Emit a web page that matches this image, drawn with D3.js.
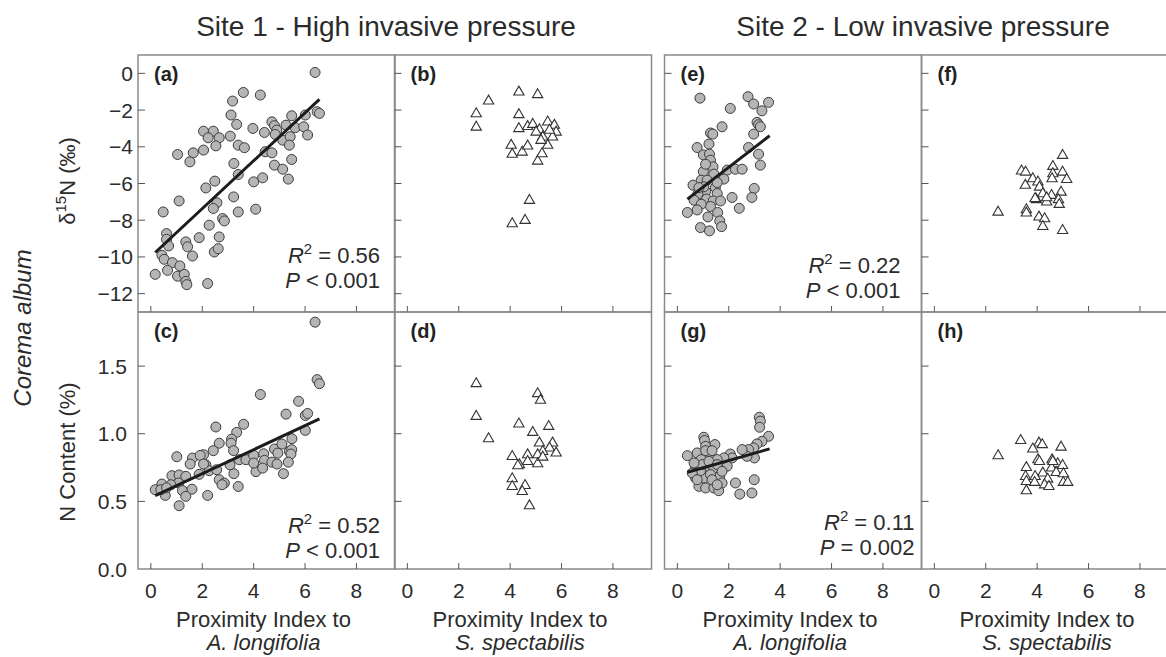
<!DOCTYPE html>
<html>
<head>
<meta charset="utf-8">
<script src="https://cdn.jsdelivr.net/npm/d3@7"></script>
<style>
  body { margin: 0; background: #fff; }
  svg { display: block; font-family: "Liberation Sans", Arial, sans-serif; }
</style>
</head>
<body>
<div id="viz"></div>
<script>
const WIDTH = 1166, HEIGHT = 657;

// tick values
const xTicks = [0, 2, 4, 6, 8];
const d15nTicks = [0, -2, -4, -6, -8, -10, -12];
const nTicks = [0.0, 0.5, 1.0, 1.5];

const siteTitles = ["Site 1 - High invasive pressure", "Site 2 - Low invasive pressure"];
const xLabelSpecies = ["A. longifolia", "S. spectabilis", "A. longifolia", "S. spectabilis"];

// (a) d15N vs proximity to A. longifolia, site 1
const panelA = [[6.39,0.05],[3.6,-1.04],[4.26,-1.18],[3.18,-1.51],[3.12,-2.27],[3.34,-2.78],[6.47,-2.09],[6.56,-2.18],[5.48,-2.31],[6.01,-2.27],[2.05,-3.15],[2.43,-3.15],[2.23,-3.51],[2.66,-3.51],[3.09,-3.42],[3.97,-3.0],[4.42,-3.22],[4.71,-2.64],[4.81,-2.85],[4.9,-3.09],[5.26,-2.82],[4.84,-3.33],[5.13,-3.64],[5.42,-3.45],[5.62,-2.96],[5.95,-2.91],[6.1,-3.36],[5.39,-3.91],[3.4,-3.91],[3.64,-4.05],[2.53,-3.95],[2.05,-4.18],[1.65,-4.33],[1.52,-4.82],[1.04,-4.42],[4.45,-4.27],[4.71,-4.33],[3.23,-4.91],[4.81,-5.0],[5.13,-5.22],[5.48,-4.69],[5.35,-5.76],[3.4,-5.51],[4.35,-5.69],[4.0,-5.91],[2.49,-5.87],[2.14,-6.24],[1.1,-6.95],[2.57,-7.05],[2.43,-7.36],[3.22,-6.73],[3.4,-7.55],[4.08,-7.4],[0.48,-7.55],[2.79,-7.91],[2.86,-8.04],[2.27,-8.27],[1.88,-8.95],[2.66,-8.91],[1.36,-9.18],[1.43,-9.45],[2.47,-9.73],[2.62,-9.55],[1.62,-9.95],[0.61,-8.73],[0.61,-9.04],[0.69,-9.4],[0.43,-9.91],[0.52,-10.13],[0.84,-10.31],[1.13,-10.49],[0.65,-10.73],[0.17,-10.95],[1.04,-11.05],[1.3,-10.95],[1.36,-11.33],[1.4,-11.51],[2.21,-11.45]];
const fitA = [[0.17,-9.76],[6.56,-1.42]];

// (b) d15N vs proximity to S. spectabilis, site 1
const panelB = [[4.34,-1.02],[5.07,-1.16],[3.16,-1.51],[2.68,-2.2],[2.68,-2.93],[4.34,-2.25],[4.34,-3.01],[4.68,-2.9],[4.88,-2.78],[5.14,-3.07],[5.46,-2.65],[5.72,-2.83],[5.79,-3.2],[5.65,-3.47],[5.27,-3.47],[5.01,-3.2],[4.04,-3.92],[4.08,-4.41],[4.47,-4.29],[4.68,-3.96],[5.07,-4.78],[5.24,-4.38],[5.46,-3.92],[4.75,-6.92],[4.08,-8.19],[4.58,-8.01],[5.2,-3.65],[5.53,-3.1]];

// (c) N content vs proximity to A. longifolia, site 1
const panelC = [[6.39,1.825],[6.47,1.40],[6.56,1.37],[4.26,1.29],[5.75,1.24],[5.26,1.145],[6.01,1.135],[6.1,1.15],[6.01,1.025],[2.53,1.05],[3.61,1.07],[3.34,1.01],[3.14,0.96],[2.66,0.93],[3.12,0.93],[3.22,0.875],[2.05,0.845],[1.62,0.82],[1.01,0.83],[1.53,0.776],[2.43,0.875],[2.14,0.77],[2.27,0.727],[1.88,0.70],[2.56,0.734],[2.66,0.66],[2.86,0.635],[2.77,0.623],[3.4,0.61],[3.23,0.705],[3.08,0.77],[3.44,0.808],[3.7,0.808],[4.0,0.84],[4.09,0.72],[4.0,0.783],[4.39,0.852],[4.42,0.803],[4.35,0.746],[4.71,0.79],[4.81,0.887],[4.94,0.857],[5.1,0.924],[4.91,0.776],[5.49,0.963],[5.39,0.87],[5.48,0.882],[5.45,0.85],[5.35,0.79],[5.16,0.705],[0.82,0.69],[1.1,0.695],[1.36,0.685],[0.43,0.628],[0.17,0.586],[0.56,0.544],[1.08,0.636],[1.23,0.58],[1.6,0.59],[1.36,0.537],[1.1,0.468],[2.21,0.544],[0.78,0.623],[1.92,0.84],[2.05,0.776],[0.39,0.586],[0.61,0.6]];
const fitC = [[0.17,0.542],[6.56,1.11]];

// (d) N content vs proximity to S. spectabilis, site 1
const panelD = [[2.68,1.37],[2.68,1.128],[3.16,0.963],[5.07,1.296],[5.18,1.247],[4.34,1.072],[5.5,1.054],[4.88,1.01],[5.14,0.931],[5.65,0.931],[5.53,0.894],[5.79,0.857],[5.27,0.869],[5.07,0.844],[4.68,0.844],[4.08,0.832],[4.36,0.77],[4.68,0.795],[5.07,0.778],[5.27,0.827],[4.08,0.667],[4.08,0.61],[4.58,0.617],[4.47,0.573],[4.75,0.467],[4.3,0.763]];

// (e) d15N vs proximity to A. longifolia, site 2
const panelE = [[0.88,-1.35],[2.75,-1.27],[2.97,-1.67],[3.55,-1.58],[3.29,-2.04],[2.06,-1.91],[3.1,-2.67],[3.16,-2.8],[3.23,-2.91],[1.74,-2.91],[1.29,-3.25],[1.38,-3.31],[2.97,-3.31],[1.23,-3.85],[0.77,-4.04],[2.77,-4.04],[1.01,-4.44],[1.25,-4.4],[3.16,-4.4],[1.29,-4.73],[3.23,-5.0],[1.39,-5.09],[1.94,-5.27],[2.26,-5.22],[2.52,-5.22],[1.01,-5.35],[1.42,-5.49],[0.93,-5.82],[1.16,-5.82],[1.81,-5.76],[0.61,-6.09],[1.48,-6.22],[1.1,-6.44],[0.8,-6.58],[1.55,-6.55],[0.65,-6.91],[1.14,-6.85],[1.39,-6.95],[1.68,-6.95],[2.13,-6.76],[2.99,-6.27],[2.9,-6.76],[1.29,-7.25],[0.93,-7.13],[1.57,-7.58],[0.77,-7.44],[0.39,-7.58],[2.41,-7.35],[1.19,-7.82],[1.65,-8.04],[1.72,-8.35],[0.9,-8.4],[1.25,-8.58],[1.03,-6.18],[0.84,-6.22],[1.55,-5.95],[1.1,-4.95]];
const fitE = [[0.39,-6.85],[3.59,-3.4]];

// (f) d15N vs proximity to S. spectabilis, site 2
const panelF = [[4.99,-4.47],[4.61,-5.07],[4.99,-5.38],[4.61,-5.47],[4.58,-5.74],[5.15,-5.78],[3.39,-5.32],[3.55,-5.38],[3.83,-5.74],[4.03,-5.92],[3.54,-6.1],[4.09,-6.2],[4.22,-6.56],[3.97,-6.88],[4.56,-6.65],[4.93,-6.47],[4.37,-7.01],[4.83,-6.88],[4.86,-7.14],[2.48,-7.56],[3.58,-7.43],[3.58,-7.61],[4.07,-7.83],[4.29,-7.92],[4.22,-8.34],[4.99,-8.56],[3.92,-6.82],[4.37,-6.78]];

// (g) N content vs proximity to A. longifolia, site 2
const panelG = [[3.19,1.122],[3.23,1.093],[3.2,1.048],[3.55,0.981],[3.29,0.944],[3.1,0.925],[2.97,0.895],[2.77,0.883],[3.0,0.821],[2.71,0.833],[2.52,0.883],[2.06,0.85],[2.13,0.821],[1.94,0.76],[1.81,0.821],[1.03,0.974],[1.06,0.95],[1.46,0.92],[1.1,0.907],[0.77,0.858],[0.39,0.838],[1.29,0.846],[0.93,0.809],[1.55,0.809],[0.71,0.747],[1.16,0.76],[1.42,0.747],[1.65,0.685],[1.03,0.673],[0.71,0.673],[0.84,0.611],[1.1,0.599],[1.42,0.599],[1.61,0.579],[1.74,0.636],[2.26,0.636],[2.43,0.554],[2.9,0.562],[2.99,0.66],[0.9,0.727],[1.29,0.698],[0.58,0.71],[0.97,0.772],[1.23,0.796],[1.55,0.772],[1.1,0.875],[1.35,0.875],[0.65,0.784],[1.74,0.722],[0.77,0.66],[1.35,0.66],[1.55,0.623]];
const fitG = [[0.39,0.715],[3.59,0.888]];

// (h) N content vs proximity to S. spectabilis, site 2
const panelH = [[3.36,0.95],[4.07,0.931],[4.2,0.919],[4.93,0.901],[3.83,0.887],[2.48,0.837],[4.03,0.807],[4.09,0.795],[4.58,0.807],[4.8,0.778],[4.99,0.765],[3.58,0.75],[4.56,0.746],[4.22,0.709],[4.74,0.713],[5.02,0.704],[3.55,0.684],[3.92,0.684],[4.41,0.664],[3.58,0.647],[3.9,0.64],[5.02,0.64],[5.19,0.64],[4.29,0.622],[4.46,0.61],[3.58,0.578],[4.61,0.795]];

const COLORS = { frame: "#8a8a8a", tick: "#555", text: "#2b2b2b", dot: "#b5b5b5", dotStroke: "#3c3c3c", line: "#1c1c1c" };

// layout
const colLeft = [138, 394.5, 664.5, 921.5];
const rowTop = [55, 312];
const PW = 257, PH = 257;

const panels = [
  { id: "(a)", col: 0, row: 0, pts: panelA, shape: "circle", fit: fitA, r2: "0.56", p: "< 0.001", sx: 242, sy: 208 },
  { id: "(b)", col: 1, row: 0, pts: panelB, shape: "triangle" },
  { id: "(c)", col: 0, row: 1, pts: panelC, shape: "circle", fit: fitC, r2: "0.52", p: "< 0.001", sx: 242, sy: 221 },
  { id: "(d)", col: 1, row: 1, pts: panelD, shape: "triangle" },
  { id: "(e)", col: 2, row: 0, pts: panelE, shape: "circle", fit: fitE, r2: "0.22", p: "< 0.001", sx: 236, sy: 218 },
  { id: "(f)", col: 3, row: 0, pts: panelF, shape: "triangle" },
  { id: "(g)", col: 2, row: 1, pts: panelG, shape: "circle", fit: fitG, r2: "0.11", p: "= 0.002", sx: 250, sy: 218 },
  { id: "(h)", col: 3, row: 1, pts: panelH, shape: "triangle" }
];

const svg = d3.select("#viz").append("svg")
  .attr("width", WIDTH)
  .attr("height", HEIGHT)
  .attr("viewBox", `0 0 ${WIDTH} ${HEIGHT}`);

svg.append("rect").attr("width", WIDTH).attr("height", HEIGHT).attr("fill", "#fff");

const tri = d3.symbol().type(d3.symbolTriangle).size(46);

panels.forEach(pn => {
  const x0 = colLeft[pn.col], y0 = rowTop[pn.row];
  const x = d3.scaleLinear().domain([-0.5, 9.5]).range([x0, x0 + PW]);
  const y = pn.row === 0
    ? d3.scaleLinear().domain([-13, 1]).range([y0 + PH, y0])
    : d3.scaleLinear().domain([0, 1.9]).range([y0 + PH, y0]);
  const yTicks = pn.row === 0 ? d15nTicks : nTicks;

  const g = svg.append("g");

  g.append("rect")
    .attr("x", x0).attr("y", y0)
    .attr("width", PW).attr("height", PH)
    .attr("fill", "none")
    .attr("stroke", COLORS.frame)
    .attr("stroke-width", 1.5);

  // inward ticks
  g.selectAll("line.yt")
    .data(yTicks.filter(t => t !== 0 || pn.row === 0))
    .join("line")
    .attr("x1", x0).attr("x2", x0 + 7)
    .attr("y1", d => y(d)).attr("y2", d => y(d))
    .attr("stroke", COLORS.tick).attr("stroke-width", 1);

  g.selectAll("line.xt")
    .data(xTicks)
    .join("line")
    .attr("x1", d => x(d)).attr("x2", d => x(d))
    .attr("y1", y0 + PH).attr("y2", y0 + PH - 6)
    .attr("stroke", COLORS.tick).attr("stroke-width", 1);

  if (pn.col === 0) {
    g.selectAll("text.yl")
      .data(yTicks)
      .join("text")
      .attr("x", pn.row === 0 ? 133 : 127)
      .attr("y", d => y(d) + 7.5)
      .attr("text-anchor", "end")
      .attr("fill", COLORS.text)
      .style("font-size", "21px")
      .text(d => pn.row === 0 ? (d === 0 ? "0" : "\u2212" + Math.abs(d)) : d3.format(".1f")(d));
  }

  if (pn.row === 1) {
    g.selectAll("text.xl")
      .data(xTicks)
      .join("text")
      .attr("x", d => x(d))
      .attr("y", 598)
      .attr("text-anchor", "middle")
      .attr("fill", COLORS.text)
      .style("font-size", "21px")
      .text(d => d);

    const cx = x0 + PW / 2 - 3;
    g.append("text")
      .attr("x", cx).attr("y", 627)
      .attr("text-anchor", "middle")
      .attr("fill", COLORS.text)
      .style("font-size", "22px")
      .text("Proximity Index to");
    g.append("text")
      .attr("x", cx).attr("y", 650)
      .attr("text-anchor", "middle")
      .attr("fill", COLORS.text)
      .style("font-size", "22px")
      .style("font-style", "italic")
      .text(xLabelSpecies[pn.col]);
  }

  if (pn.shape === "circle") {
    g.selectAll("circle.pt")
      .data(pn.pts)
      .join("circle")
      .attr("cx", d => x(d[0]))
      .attr("cy", d => y(d[1]))
      .attr("r", 5)
      .attr("fill", COLORS.dot)
      .attr("stroke", COLORS.dotStroke)
      .attr("stroke-width", 1);
  } else {
    g.selectAll("path.pt")
      .data(pn.pts)
      .join("path")
      .attr("d", tri)
      .attr("transform", d => `translate(${x(d[0])},${y(d[1])})`)
      .attr("fill", "#fff")
      .attr("stroke", "#333")
      .attr("stroke-width", 1.1);
  }

  // regression line, over the points
  if (pn.fit) {
    g.append("line")
      .attr("x1", x(pn.fit[0][0])).attr("y1", y(pn.fit[0][1]))
      .attr("x2", x(pn.fit[1][0])).attr("y2", y(pn.fit[1][1]))
      .attr("stroke", COLORS.line)
      .attr("stroke-width", 3);
  }

  g.append("text")
    .attr("x", x0 + 16).attr("y", y0 + 26)
    .attr("fill", "#222")
    .style("font-size", "20px")
    .style("font-weight", "bold")
    .text(pn.id);

  if (pn.r2) {
    const t1 = g.append("text")
      .attr("x", x0 + pn.sx).attr("y", y0 + pn.sy)
      .attr("text-anchor", "end")
      .attr("fill", COLORS.text)
      .style("font-size", "22px");
    t1.append("tspan").style("font-style", "italic").text("R");
    t1.append("tspan").attr("dy", -9).style("font-size", "15px").text("2");
    t1.append("tspan").attr("dy", 9).text(" = " + pn.r2);

    const t2 = g.append("text")
      .attr("x", x0 + pn.sx).attr("y", y0 + pn.sy + 25)
      .attr("text-anchor", "end")
      .attr("fill", COLORS.text)
      .style("font-size", "22px");
    t2.append("tspan").style("font-style", "italic").text("P");
    t2.append("tspan").text(" " + pn.p);
  }
});

// site titles
svg.selectAll("text.site")
  .data(siteTitles)
  .join("text")
  .attr("x", (d, i) => i === 0 ? 386 : 923)
  .attr("y", 36)
  .attr("text-anchor", "middle")
  .attr("fill", COLORS.text)
  .style("font-size", "28px")
  .text(d => d);

// y axis labels
const d15 = svg.append("text")
  .attr("transform", "translate(75,181) rotate(-90)")
  .attr("text-anchor", "middle")
  .attr("fill", COLORS.text)
  .style("font-size", "22px");
d15.append("tspan").text("\u03b4");
d15.append("tspan").attr("dy", -9).style("font-size", "15px").text("15");
d15.append("tspan").attr("dy", 9).text("N (\u2030)");

svg.append("text")
  .attr("transform", "translate(75,452) rotate(-90)")
  .attr("text-anchor", "middle")
  .attr("fill", COLORS.text)
  .style("font-size", "22px")
  .text("N Content (%)");

svg.append("text")
  .attr("transform", "translate(31,328) rotate(-90)")
  .attr("text-anchor", "middle")
  .attr("fill", COLORS.text)
  .style("font-size", "24px")
  .style("font-style", "italic")
  .text("Corema album");
</script>
</body>
</html>
